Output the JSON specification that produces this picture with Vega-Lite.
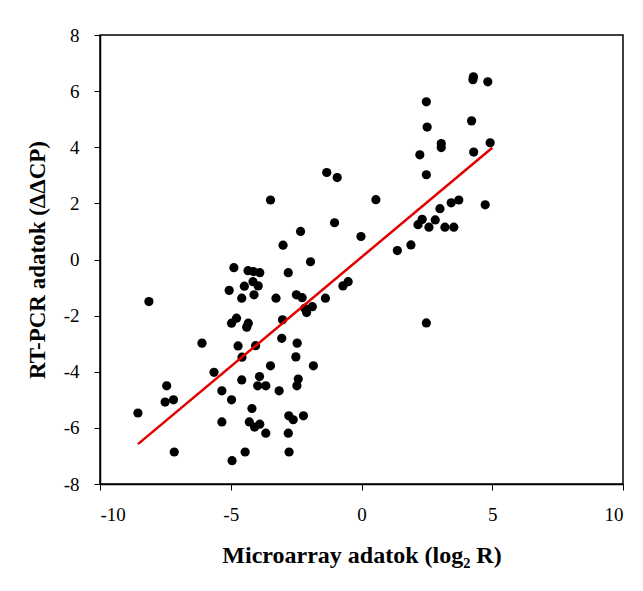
{
  "$schema": "https://vega.github.io/schema/vega-lite/v6.json",
  "autosize": "none",
  "width": 523,
  "height": 449,
  "padding": {"left": 100, "top": 35, "right": 20, "bottom": 107},
  "background": "white",
  "config": {
    "view": {"stroke": "black", "strokeWidth": 1.5},
    "font": "Liberation Serif",
    "axis": {
      "grid": false,
      "domainColor": "black",
      "domainWidth": 1.5,
      "tickColor": "black",
      "tickSize": 6,
      "tickWidth": 1,
      "labelColor": "black",
      "labelFont": "Liberation Serif",
      "labelFontSize": 19,
      "labelExpr": "replace(datum.label, '\u2212', '-')",
      "titleFont": "Liberation Serif",
      "titleFontSize": 23,
      "titleFontWeight": "bold",
      "titleColor": "black"
    }
  },
  "datasets": {
    "pts": [
      {"x": -1.33, "y": 3.10}, {"x": -0.93, "y": 2.92}, {"x": -3.48, "y": 2.12}, {"x": -1.03, "y": 1.31},
      {"x": -2.33, "y": 1.00}, {"x": -3.0, "y": 0.51}, {"x": -0.02, "y": 0.82}, {"x": -1.95, "y": -0.08},
      {"x": 4.28, "y": 6.51}, {"x": 4.26, "y": 6.41}, {"x": 4.83, "y": 6.33}, {"x": 2.48, "y": 5.62},
      {"x": 4.21, "y": 4.94}, {"x": 2.51, "y": 4.72}, {"x": 3.05, "y": 4.13}, {"x": 3.05, "y": 3.99},
      {"x": 4.92, "y": 4.16}, {"x": 4.29, "y": 3.83}, {"x": 2.23, "y": 3.73}, {"x": 2.48, "y": 3.02},
      {"x": 0.55, "y": 2.13}, {"x": 4.73, "y": 1.95}, {"x": 3.72, "y": 2.12}, {"x": 3.43, "y": 2.02},
      {"x": 3.0, "y": 1.81}, {"x": 2.32, "y": 1.43}, {"x": 2.16, "y": 1.24}, {"x": 2.58, "y": 1.15},
      {"x": 2.82, "y": 1.41}, {"x": 3.19, "y": 1.15}, {"x": 3.53, "y": 1.15}, {"x": 1.89, "y": 0.52},
      {"x": 1.37, "y": 0.32}, {"x": 2.48, "y": -2.26},
      {"x": -8.13, "y": -1.50}, {"x": -4.88, "y": -0.29}, {"x": -4.34, "y": -0.40}, {"x": -4.13, "y": -0.43},
      {"x": -3.89, "y": -0.47}, {"x": -4.15, "y": -0.79}, {"x": -4.48, "y": -0.95}, {"x": -3.95, "y": -0.94},
      {"x": -5.06, "y": -1.10}, {"x": -4.58, "y": -1.38}, {"x": -4.11, "y": -1.26}, {"x": -2.80, "y": -0.47},
      {"x": -3.27, "y": -1.38}, {"x": -2.49, "y": -1.26}, {"x": -2.27, "y": -1.36}, {"x": -1.38, "y": -1.38},
      {"x": -0.71, "y": -0.94}, {"x": -0.51, "y": -0.79}, {"x": -1.88, "y": -1.68}, {"x": -2.10, "y": -1.89},
      {"x": -2.17, "y": -1.74}, {"x": -3.02, "y": -2.15}, {"x": -4.97, "y": -2.27}, {"x": -4.78, "y": -2.09},
      {"x": -4.33, "y": -2.27}, {"x": -4.39, "y": -2.41}, {"x": -6.10, "y": -2.98}, {"x": -4.72, "y": -3.08},
      {"x": -4.05, "y": -3.07}, {"x": -4.57, "y": -3.48}, {"x": -3.05, "y": -2.81}, {"x": -2.46, "y": -2.98},
      {"x": -2.51, "y": -3.47}, {"x": -3.48, "y": -3.79}, {"x": -1.84, "y": -3.79}, {"x": -5.64, "y": -4.02},
      {"x": -4.58, "y": -4.29}, {"x": -3.90, "y": -4.17}, {"x": -3.97, "y": -4.50}, {"x": -3.66, "y": -4.50},
      {"x": -3.15, "y": -4.68}, {"x": -2.42, "y": -4.26}, {"x": -2.47, "y": -4.50}, {"x": -7.45, "y": -4.50},
      {"x": -7.51, "y": -5.08}, {"x": -7.19, "y": -5.00}, {"x": -8.55, "y": -5.47}, {"x": -5.34, "y": -4.68},
      {"x": -4.97, "y": -5.00}, {"x": -4.19, "y": -5.31}, {"x": -5.34, "y": -5.79}, {"x": -4.29, "y": -5.79},
      {"x": -4.09, "y": -5.97}, {"x": -3.89, "y": -5.87}, {"x": -3.66, "y": -6.19}, {"x": -2.78, "y": -5.57},
      {"x": -2.61, "y": -5.71}, {"x": -2.22, "y": -5.57}, {"x": -2.80, "y": -6.19}, {"x": -7.16, "y": -6.86},
      {"x": -4.45, "y": -6.86}, {"x": -2.77, "y": -6.86}, {"x": -4.95, "y": -7.17}
    ],
    "fit": [
      {"x": -8.55, "y": -6.58},
      {"x": 5.0, "y": 3.98}
    ]
  },
  "layer": [
    {
      "data": {"name": "pts"},
      "mark": {"type": "circle", "color": "black", "opacity": 1, "size": 85},
      "encoding": {
        "x": {
          "field": "x", "type": "quantitative",
          "scale": {"domain": [-10, 10], "nice": false, "zero": false},
          "axis": {"values": [-10, -5, 0, 5, 10], "title": "Microarray adatok (log₂ R)", "labelPadding": 15, "titlePadding": 19, "titleFontSize": 24}
        },
        "y": {
          "field": "y", "type": "quantitative",
          "scale": {"domain": [-8, 8], "nice": false, "zero": false},
          "axis": {"values": [-8, -6, -4, -2, 0, 2, 4, 6, 8], "title": "RT-PCR adatok (ΔΔCP)", "labelPadding": 15, "titlePadding": 14}
        }
      }
    },
    {
      "data": {"name": "fit"},
      "mark": {"type": "line", "color": "#e00000", "strokeWidth": 2.5},
      "encoding": {
        "x": {"field": "x", "type": "quantitative"},
        "y": {"field": "y", "type": "quantitative"}
      }
    }
  ]
}
